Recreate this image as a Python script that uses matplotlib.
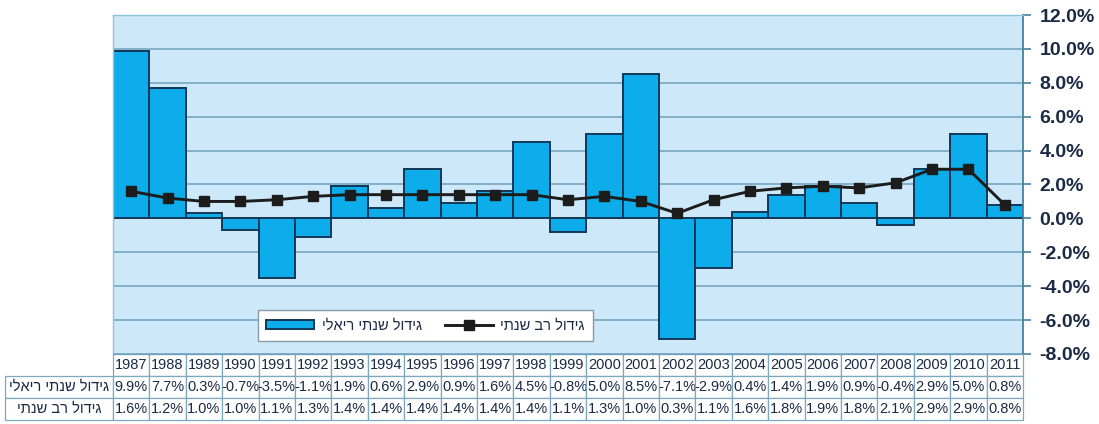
import numpy as np
import matplotlib
matplotlib.use('Agg')
import matplotlib.pyplot as plt
from matplotlib.patches import Patch
from matplotlib.lines import Line2D

plt.rcParams['font.family'] = ['Liberation Sans', 'DejaVu Sans']

# נתונים
years = [1987, 1988, 1989, 1990, 1991, 1992, 1993, 1994, 1995, 1996, 1997, 1998, 1999,
         2000, 2001, 2002, 2003, 2004, 2005, 2006, 2007, 2008, 2009, 2010, 2011]
real_growth = [9.9, 7.7, 0.3, -0.7, -3.5, -1.1, 1.9, 0.6, 2.9, 0.9, 1.6, 4.5, -0.8,
               5.0, 8.5, -7.1, -2.9, 0.4, 1.4, 1.9, 0.9, -0.4, 2.9, 5.0, 0.8]
multi_year_growth = [1.6, 1.2, 1.0, 1.0, 1.1, 1.3, 1.4, 1.4, 1.4, 1.4, 1.4, 1.4, 1.1,
                     1.3, 1.0, 0.3, 1.1, 1.6, 1.8, 1.9, 1.8, 2.1, 2.9, 2.9, 0.8]
label_real = 'גידול שנתי ריאלי'
label_multi = 'גידול רב שנתי'
y_ticks = [-8, -6, -4, -2, 0, 2, 4, 6, 8, 10, 12]

BAR_COLOR = '#0cadea'
EDGE_COLOR = '#0f3858'
LINE_COLOR = '#1c1c1c'
BG_COLOR = '#cde9f9'
GRID_COLOR = '#6f9fbb'
TEXT_COLOR = '#1b2a44'


def rtl(s):
    # matplotlib מצייר משמאל לימין בלבד
    return s[::-1]


def main():
    fig = plt.figure(figsize=(10.99, 4.24), dpi=100)
    left, right = 113 / 1099, 1023 / 1099
    bottom, top = 1 - 354 / 424, 1 - 15 / 424
    ax = fig.add_axes([left, bottom, right - left, top - bottom])
    ax.set_facecolor(BG_COLOR)

    x = np.arange(len(years))
    ax.bar(x, real_growth, width=1.0, color=BAR_COLOR, edgecolor=EDGE_COLOR,
           linewidth=1.4, zorder=2)
    ax.plot(x, multi_year_growth, color=LINE_COLOR, linewidth=2.1, marker='s',
            markersize=7.5, zorder=3)

    ax.set_xlim(-0.5, len(years) - 0.5)
    ax.set_ylim(-8, 12)
    ax.set_xticks([])
    ax.set_yticks(y_ticks)
    ax.set_yticklabels(['%.1f%%' % v for v in y_ticks])
    ax.yaxis.tick_right()
    ax.tick_params(axis='y', direction='out', length=6, width=1.2, color='#4a7fa0',
                   pad=6, labelsize=14, labelcolor=TEXT_COLOR)
    for lbl in ax.get_yticklabels():
        lbl.set_fontweight('bold')

    ax.grid(axis='y', color=GRID_COLOR, linewidth=1.1, zorder=0)
    ax.set_axisbelow(True)
    for side in ['left', 'top']:
        ax.spines[side].set_color('#8cc3dc')
        ax.spines[side].set_linewidth(1.0)
    ax.spines['right'].set_color('#4a7fa0')
    ax.spines['right'].set_linewidth(1.3)
    ax.spines['bottom'].set_color('#6f9fbb')

    # מקרא
    handles = [Patch(facecolor=BAR_COLOR, edgecolor=EDGE_COLOR, linewidth=1.4),
               Line2D([], [], color=LINE_COLOR, linewidth=2.1, marker='s', markersize=7.5)]
    leg = fig.legend(handles, [rtl(label_real), rtl(label_multi)], ncol=2,
                     loc='center', bbox_to_anchor=(425.5 / 1099, 1 - 325.5 / 424),
                     frameon=True, fancybox=False, framealpha=1, edgecolor='#8a9aa6',
                     fontsize=10.5, handlelength=3.3, handleheight=0.55,
                     handletextpad=0.5, columnspacing=1.6, borderpad=0.55)
    leg.get_frame().set_linewidth(1.0)
    for t in leg.get_texts():
        t.set_color(TEXT_COLOR)

    # טבלת נתונים מתחת לגרף
    cell_text = [[''] + [str(y) for y in years],
                 [rtl(label_real)] + ['%.1f%%' % v for v in real_growth],
                 [rtl(label_multi)] + ['%.1f%%' % v for v in multi_year_growth]]
    label_w = 108 / 910
    col_w = 1 / len(years)
    ax_h = 354 - 15
    table = ax.table(cellText=cell_text, cellLoc='center',
                     colWidths=[label_w] + [col_w] * len(years),
                     bbox=[-label_w, -66 / ax_h, 1 + label_w, 66 / ax_h])
    table.auto_set_font_size(False)
    table.set_fontsize(10.5)
    for (r, c), cell in table.get_celld().items():
        cell.set_edgecolor('#7ea8c0')
        cell.set_linewidth(0.9)
        cell.get_text().set_color(TEXT_COLOR)
        cell.PAD = 0.02
        if r == 0 and c == 0:
            cell.visible_edges = 'open'

    fig.savefig('out.png', dpi=100, facecolor='white')
    plt.close(fig)


if __name__ == '__main__':
    main()
